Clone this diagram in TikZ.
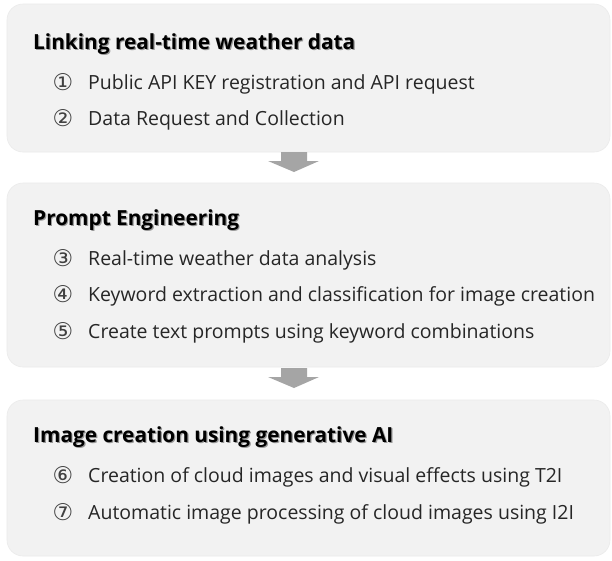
\documentclass[tikz,border=0pt]{standalone}
\usepackage{fontspec}
\setmainfont{Open Sans}
\newfontfamily\numfont{DejaVu Sans}
\begin{document}
\begin{tikzpicture}[x=1pt,y=-1pt,
  panel/.style={fill=panelgray, draw=panelrim, line width=0.6pt, rounded corners=16pt},
  heading/.style={anchor=base west, font=\bfseries\fontsize{20.8}{24}\selectfont, text=black, inner sep=0pt},
  headshadow/.style={anchor=base west, font=\bfseries\fontsize{20.8}{24}\selectfont, text=black!40, inner sep=0pt},
  itemtext/.style={anchor=base west, font=\fontsize{19.5}{22}\selectfont, text=black!85, inner sep=0pt},
  itemnum/.style={anchor=base, font=\numfont\fontsize{23}{26}\selectfont, text=black!75, inner sep=0pt},
  flow/.style={fill=arrowgray, draw=none}
]
\definecolor{panelgray}{HTML}{F2F2F2}
\definecolor{panelrim}{HTML}{EBEBEB}
\definecolor{arrowgray}{HTML}{A5A5A5}
\useasboundingbox (0,0) rectangle (612,560);
\fill[white] (0,0) rectangle (612,560);

% three stage panels
\draw[panel] (7,4) rectangle (610,152);
\draw[panel] (7,183) rectangle (610,367);
\draw[panel] (7,400) rectangle (610,556);

% block arrows between stages
\fill[flow] (281,152) -- (307,152) -- (307,161) -- (319,161) -- (294,172) -- (268,161) -- (281,161) -- cycle;
\fill[flow] (281,368) -- (307,368) -- (307,377) -- (319,377) -- (294,388) -- (268,377) -- (281,377) -- cycle;

% stage 1
\node[headshadow] at (34.2,50.2) {Linking real-time weather data};
\node[heading] (h1) at (33,49) {Linking real-time weather data};
\node[itemnum] (n1) at (63,90) {①};
\node[itemtext] (t1) at (88,89) {Public API KEY registration and API request};
\node[itemnum] (n2) at (63,126) {②};
\node[itemtext] (t2) at (88,125) {Data Request and Collection};

% stage 2
\node[headshadow] at (34.2,226.2) {Prompt Engineering};
\node[heading] (h2) at (33,225) {Prompt Engineering};
\node[itemnum] (n3) at (63,266) {③};
\node[itemtext] (t3) at (88,265) {Real-time weather data analysis};
\node[itemnum] (n4) at (63,302) {④};
\node[itemtext] (t4) at (88,301) {Keyword extraction and classification for image creation};
\node[itemnum] (n5) at (63,339) {⑤};
\node[itemtext] (t5) at (88,338) {Create text prompts using keyword combinations};

% stage 3
\node[headshadow] at (34.2,443.2) {Image creation using generative AI};
\node[heading] (h3) at (33,442) {Image creation using generative AI};
\node[itemnum] (n6) at (63,483) {⑥};
\node[itemtext] (t6) at (88,482) {Creation of cloud images and visual effects using T2I};
\node[itemnum] (n7) at (63,520) {⑦};
\node[itemtext] (t7) at (88,519) {Automatic image processing of cloud images using I2I};
\end{tikzpicture}
\end{document}
